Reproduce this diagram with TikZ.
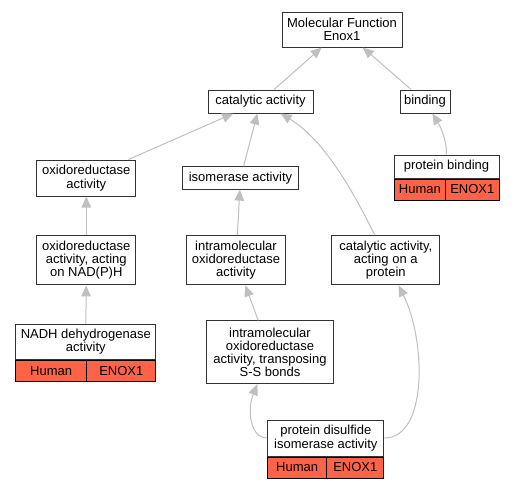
\documentclass[tikz,border=0pt]{standalone}
\usepackage{fontspec}
\setmainfont{Liberation Sans}
\usepackage{xcolor}
\usepackage{tikz}
\usetikzlibrary{arrows.meta}
\usetikzlibrary{positioning}
\definecolor{tomato}{HTML}{FF6347}

\begin{document}
\begin{tikzpicture}[x=1pt, y=-1pt, semithick]
  \tikzstyle{term}=[draw=black!80, line width=1pt, fill=white, inner sep=0pt, align=center, font=\fontsize{13}{13.3}\selectfont]
  \tikzstyle{cell}=[term, fill=tomato, draw=black, minimum height=21pt]
  \tikzstyle{isa}=[draw=gray!50, line width=1pt, -{Triangle[length=11pt,width=9.5pt]}]
  \useasboundingbox (0,0) rectangle (515,488);

  % terms
  \node[term, minimum width=120pt, minimum height=35pt] (mf) at (342,29.5) {Molecular Function\\Enox1};
  \node[term, minimum width=105pt, minimum height=23pt] (cat) [node distance=72pt, below of=mf, xshift=-81.5pt] {catalytic activity};
  \node[term, minimum width=50pt, minimum height=23pt] (bind) [node distance=164.5pt, right of=cat] {binding};
  \node[term, minimum width=105pt, minimum height=23pt] (pb) [node distance=65pt, below of=bind, xshift=21.5pt] {protein binding};
  \node[term, minimum width=99.3pt, minimum height=36pt] (oxi) [node distance=76.5pt, below of=cat, xshift=-174.2pt] {oxidoreductase\\activity};
  \node[term, minimum width=115.6pt, minimum height=22.3pt] (iso) [node distance=154.2pt, right of=oxi] {isomerase activity};
  \node[term, minimum width=99.3pt, minimum height=49.3pt] (nadp) [node distance=82.3pt, below of=oxi] {oxidoreductase\\activity, acting\\on NAD(P)H};
  \node[term, minimum width=98.7pt, minimum height=49.3pt] (intra) [node distance=149.7pt, right of=nadp] {intramolecular\\oxidoreductase\\activity};
  \node[term, minimum width=108.3pt, minimum height=49.3pt] (prot) [node distance=149.8pt, right of=intra] {catalytic activity,\\acting on a\\protein};
  \node[term, minimum width=140.3pt, minimum height=35.3pt] (nadh) [node distance=81.4pt, below of=nadp, xshift=-0.5pt] {NADH dehydrogenase\\activity};
  \node[term, minimum width=126.7pt, minimum height=62.7pt] (ss) [node distance=92pt, below of=intra, xshift=34pt] {intramolecular\\oxidoreductase\\activity, transposing\\S-S bonds};
  \node[term, minimum width=116.3pt, minimum height=36pt] (pdi) [node distance=85.7pt, below of=ss, xshift=55.8pt] {protein disulfide\\isomerase activity};

  % annotation rows
  \node[cell, minimum width=51.7pt, anchor=north west] (pbh) at (pb.south west) {Human};
  \node[cell, minimum width=53.3pt, anchor=north east] (pbe) at (pb.south east) {ENOX1};
  \node[cell, minimum width=71pt, anchor=north west] (nadhh) at (nadh.south west) {Human};
  \node[cell, minimum width=69.3pt, anchor=north east] (nadhe) at (nadh.south east) {ENOX1};
  \node[cell, minimum width=59pt, anchor=north west] (pdih) at (pdi.south west) {Human};
  \node[cell, minimum width=57.3pt, anchor=north east] (pdie) at (pdi.south east) {ENOX1};

  % is_a edges
  \foreach \a/\b in {cat/mf, bind/mf, oxi/cat, iso/cat, nadp/oxi, intra/iso, nadh/nadp, ss/intra}{
    \draw[isa] (\a) -- (\b);
  }
  \draw[isa] ([xshift=-11pt]prot.north) .. controls (355,195) and (325,140) .. (cat);
  \draw[isa] (pb.north) .. controls (446.5,138) and (440,126) .. (bind);
  \draw[isa] (pdi.west) .. controls (250,438) and (247,410) .. (ss);
  \draw[isa] (pdi.east) .. controls (428,438) and (426,340) .. (prot);
\end{tikzpicture}
\end{document}
